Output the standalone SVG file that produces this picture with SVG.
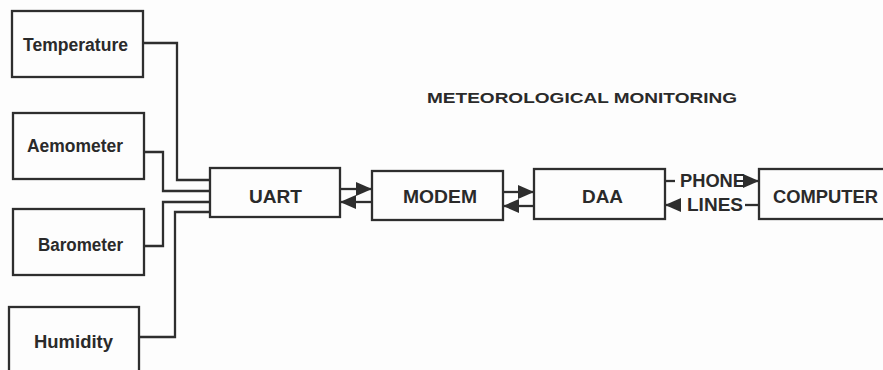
<svg xmlns="http://www.w3.org/2000/svg" width="883" height="370" viewBox="0 0 883 370">
<defs>
<style>
.box{fill:none;stroke:#2e2e2e;stroke-width:2.3}
.ln{fill:none;stroke:#2e2e2e;stroke-width:2.3}
.lbl{font-family:"Liberation Sans",Arial,sans-serif;font-weight:bold;font-size:18px;fill:#2a2a2a}
.ttl{font-family:"Liberation Sans",Arial,sans-serif;font-weight:bold;font-size:15.5px;fill:#2a2a2a}
</style>
<marker id="ah" viewBox="0 0 16 14" refX="16" refY="7" markerWidth="16" markerHeight="14" markerUnits="userSpaceOnUse" orient="auto">
<path d="M0,0 L16,7 L0,14 z" fill="#2e2e2e"/>
</marker>
</defs>
<rect width="883" height="370" fill="#fdfdfd"/>
<text class="ttl" x="427" y="102.5" textLength="310" lengthAdjust="spacingAndGlyphs">METEOROLOGICAL MONITORING</text>
<g id="temperature"><rect class="box" x="12" y="11" width="131" height="66"/><text class="lbl" x="23" y="51" textLength="105" lengthAdjust="spacingAndGlyphs">Temperature</text></g>
<g id="aemometer"><rect class="box" x="13" y="113" width="131" height="66"/><text class="lbl" x="27" y="152" textLength="96" lengthAdjust="spacingAndGlyphs">Aemometer</text></g>
<g id="barometer"><rect class="box" x="13" y="209" width="131" height="66"/><text class="lbl" x="38" y="251" textLength="85" lengthAdjust="spacingAndGlyphs">Barometer</text></g>
<g id="humidity"><rect class="box" x="9" y="307" width="130" height="70"/><text class="lbl" x="34" y="348" textLength="79" lengthAdjust="spacingAndGlyphs">Humidity</text></g>
<g id="uart"><rect class="box" x="210" y="168" width="130" height="49"/><text class="lbl" x="249" y="203" textLength="53" lengthAdjust="spacingAndGlyphs">UART</text></g>
<g id="modem"><rect class="box" x="372" y="171" width="131" height="49"/><text class="lbl" x="403" y="203" textLength="74" lengthAdjust="spacingAndGlyphs">MODEM</text></g>
<g id="daa"><rect class="box" x="534" y="169" width="131" height="50"/><text class="lbl" x="582" y="203" textLength="41" lengthAdjust="spacingAndGlyphs">DAA</text></g>
<g id="computer"><rect class="box" x="759" y="169" width="130" height="50"/><text class="lbl" x="773" y="203" textLength="105" lengthAdjust="spacingAndGlyphs">COMPUTER</text></g>
<g id="connectors">
<polyline class="ln" points="143,43 177,43 177,180 210,180"/>
<polyline class="ln" points="144,152 163,152 163,191 210,191"/>
<polyline class="ln" points="144,246 163,246 163,202 210,202"/>
<polyline class="ln" points="139,337 175,337 175,212 210,212"/>
<line class="ln" x1="340" y1="189" x2="372" y2="189" marker-end="url(#ah)"/>
<line class="ln" x1="372" y1="202" x2="340" y2="202" marker-end="url(#ah)"/>
<line class="ln" x1="503" y1="192" x2="534" y2="192" marker-end="url(#ah)"/>
<line class="ln" x1="534" y1="206" x2="503" y2="206" marker-end="url(#ah)"/>
<line class="ln" x1="665" y1="181" x2="675" y2="181"/>
<line class="ln" x1="745" y1="181" x2="759" y2="181" marker-end="url(#ah)"/>
<line class="ln" x1="681" y1="205" x2="665" y2="205" marker-end="url(#ah)"/>
<line class="ln" x1="745" y1="205" x2="759" y2="205"/>
<text class="lbl" x="680" y="187" textLength="65" lengthAdjust="spacingAndGlyphs">PHONE</text>
<text class="lbl" x="687" y="211" textLength="56" lengthAdjust="spacingAndGlyphs">LINES</text>
</g>
</svg>
